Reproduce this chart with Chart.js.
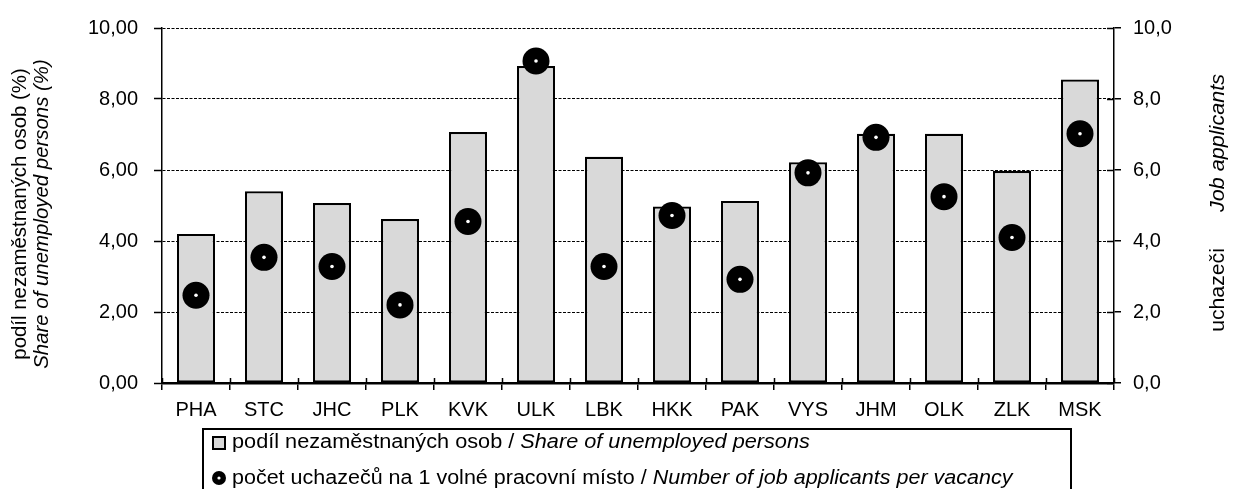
<!DOCTYPE html>
<html>
<head>
<meta charset="utf-8">
<script src="https://cdn.jsdelivr.net/npm/chart.js@4.4.1/dist/chart.umd.min.js"></script>
<style>
  html, body { margin: 0; padding: 0; background: #ffffff; }
  #wrap { width: 1236px; height: 489px; position: relative; }
</style>
</head>
<body>
<div id="wrap"><canvas id="c" width="1236" height="489"></canvas></div>
<script>
const categories = ["PHA", "STC", "JHC", "PLK", "KVK", "ULK", "LBK", "HKK", "PAK", "VYS", "JHM", "OLK", "ZLK", "MSK"];
const shareUnemployed = [4.20, 5.40, 5.07, 4.62, 7.07, 8.93, 6.37, 4.97, 5.13, 6.22, 7.02, 7.02, 5.97, 8.55];
const applicantsPerVacancy = [2.47, 3.54, 3.28, 2.20, 4.55, 9.07, 3.28, 4.72, 2.92, 5.92, 6.92, 5.25, 4.10, 7.02];
const leftTicks = [0, 2, 4, 6, 8, 10];
const rightTicks = [0, 2, 4, 6, 8, 10];

const FONT = "'Liberation Sans', Arial, sans-serif";
const FS = 20;

function fmt(v, d) { return v.toFixed(d).replace('.', ','); }

const extras = {
  id: 'extras',
  afterDraw(chart) {
    const ctx = chart.ctx;
    const ca = chart.chartArea;
    const x = chart.scales.x, y1 = chart.scales.y1;
    ctx.save();
    ctx.strokeStyle = '#000';
    ctx.lineWidth = 1.5;
    const n = categories.length;
    for (let i = 0; i <= n; i++) {
      let px;
      if (i === 0) px = ca.left;
      else if (i === n) px = ca.right;
      else px = (x.getPixelForValue(i - 1) + x.getPixelForValue(i)) / 2;
      ctx.beginPath();
      ctx.moveTo(Math.round(px) + 0.5, ca.bottom - 5);
      ctx.lineTo(Math.round(px) + 0.5, ca.bottom);
      ctx.stroke();
    }
    rightTicks.forEach(v => {
      const py = y1.getPixelForValue(v);
      ctx.beginPath();
      ctx.moveTo(ca.right - 7, Math.round(py) + 0.5);
      ctx.lineTo(ca.right, Math.round(py) + 0.5);
      ctx.stroke();
    });

    ctx.fillStyle = '#000';
    ctx.textBaseline = 'middle';
    function vtext(txt, cx, cy, italic, stretch) {
      ctx.save();
      ctx.translate(cx, cy);
      ctx.rotate(-Math.PI / 2);
      ctx.scale(stretch, 1);
      ctx.textAlign = 'center';
      ctx.font = (italic ? 'italic ' : '') + FS + 'px ' + FONT;
      ctx.fillText(txt, 0, 0);
      ctx.restore();
    }
    vtext('podíl nezaměstnaných osob (%)', 20, 214, false, 1.02);
    vtext('Share of unemployed persons (%)', 42, 214, true, 1.02);
    vtext('uchazeči', 1218, 290, false, 1.06);
    vtext('Job applicants', 1218, 143, true, 1.08);

    // legend box
    ctx.lineWidth = 2;
    ctx.strokeStyle = '#000';
    ctx.strokeRect(203, 429, 868, 70);
    ctx.fillStyle = '#d9d9d9';
    ctx.fillRect(213, 437, 12, 12);
    ctx.strokeRect(213, 437, 12, 12);
    ctx.fillStyle = '#000';
    ctx.beginPath(); ctx.arc(219, 478, 7, 0, Math.PI * 2); ctx.fill();
    ctx.fillStyle = '#fff';
    ctx.beginPath(); ctx.arc(219, 478, 1.6, 0, Math.PI * 2); ctx.fill();
    ctx.fillStyle = '#000';
    ctx.textAlign = 'left';
    function mixed(a, b, tx, ty, stretch) {
      ctx.save();
      ctx.translate(tx, ty);
      ctx.scale(stretch, 1);
      ctx.font = FS + 'px ' + FONT;
      ctx.fillText(a, 0, 0);
      const w = ctx.measureText(a).width;
      ctx.font = 'italic ' + FS + 'px ' + FONT;
      ctx.fillText(b, w, 0);
      ctx.restore();
    }
    mixed('podíl nezaměstnaných osob / ', 'Share of unemployed persons', 232, 442, 1.085);
    mixed('počet uchazečů na 1 volné pracovní místo / ', 'Number of job applicants per vacancy', 232, 478, 1.075);
    ctx.restore();
  }
};

new Chart(document.getElementById('c'), {
  type: 'bar',
  data: {
    labels: categories,
    datasets: [
      {
        type: 'line',
        label: 'center',
        data: applicantsPerVacancy,
        yAxisID: 'y1',
        showLine: false,
        pointRadius: 1.8,
        pointBorderWidth: 0,
        pointBackgroundColor: '#ffffff',
        order: 1
      },
      {
        type: 'line',
        label: 'počet uchazečů na 1 volné pracovní místo / Number of job applicants per vacancy',
        data: applicantsPerVacancy,
        yAxisID: 'y1',
        showLine: false,
        pointRadius: 13.5,
        pointBorderWidth: 0,
        pointBackgroundColor: '#000000',
        order: 2
      },
      {
        type: 'bar',
        label: 'podíl nezaměstnaných osob / Share of unemployed persons',
        data: shareUnemployed,
        yAxisID: 'y',
        backgroundColor: '#d9d9d9',
        borderColor: '#000000',
        borderWidth: 2.2,
        borderSkipped: false,
        categoryPercentage: 1,
        barPercentage: 0.56,
        order: 3
      }
    ]
  },
  options: {
    responsive: false,
    animation: false,
    devicePixelRatio: 1,
    layout: { padding: { top: 24, left: 0, right: 0, bottom: 0 } },
    plugins: { legend: { display: false }, tooltip: { enabled: false } },
    scales: {
      x: {
        offset: true,
        grid: { offset: true, drawOnChartArea: false, color: '#000', lineWidth: 1.5, tickLength: 7 },
        border: { display: true, color: '#000', width: 2.5, z: 1 },
        ticks: { color: '#000', font: { family: FONT, size: FS }, padding: 8, maxRotation: 0, autoSkip: false },
        afterFit(s) { s.height = 106; }
      },
      y: {
        position: 'left',
        min: 0, max: 10,
        afterBuildTicks(s) { s.ticks = leftTicks.map(v => ({ value: v })); },
        grid: { color: '#000', lineWidth: 1, tickLength: 8, tickColor: '#000', tickWidth: 1.5, tickBorderDash: [] },
        border: { display: true, color: '#000', width: 1.5, dash: [3, 1.5] },
        ticks: { color: '#000', font: { family: FONT, size: FS }, padding: 16, callback: v => fmt(v, 2) },
        afterFit(s) { s.width = 162; }
      },
      y1: {
        position: 'right',
        min: 0, max: 10,
        afterBuildTicks(s) { s.ticks = rightTicks.map(v => ({ value: v })); },
        grid: { drawOnChartArea: false, color: '#000', lineWidth: 1.5, tickLength: 7 },
        border: { display: true, color: '#000', width: 1.5 },
        ticks: { color: '#000', font: { family: FONT, size: FS }, padding: 12, callback: v => fmt(v, 1) },
        afterFit(s) { s.width = 122; }
      }
    }
  },
  plugins: [extras]
});
</script>
</body>
</html>
